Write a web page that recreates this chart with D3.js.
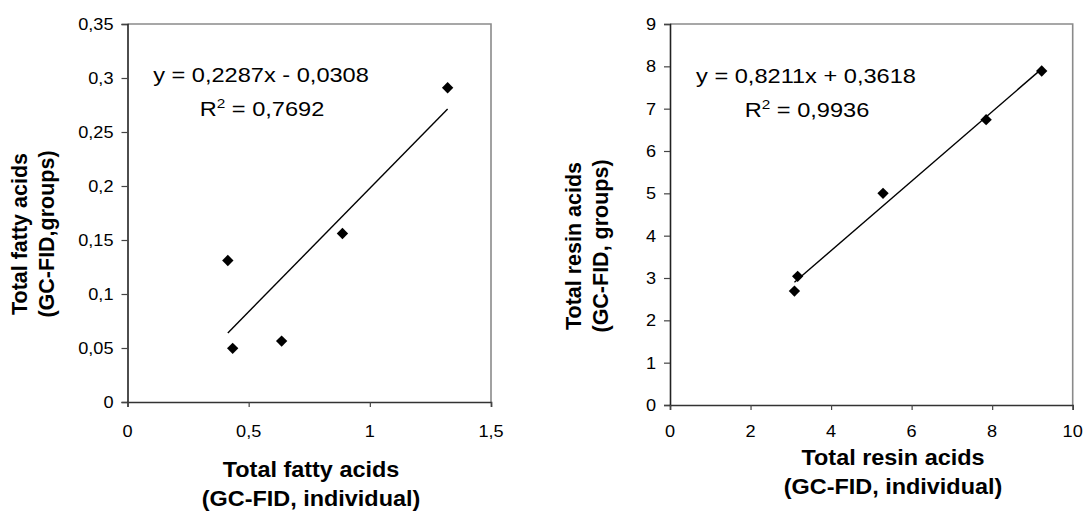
<!DOCTYPE html>
<html>
<head>
<meta charset="utf-8">
<script src="https://cdn.jsdelivr.net/npm/d3@7"></script>
<style>
  html, body { margin: 0; padding: 0; background: #fff; }
  svg { display: block; }
  text { font-family: "Liberation Sans", Arial, sans-serif; fill: #000; }
</style>
</head>
<body>
<svg id="chart" width="1086" height="511"></svg>
<script>
// ---- Data ----
const fattyX = [0.414, 0.434, 0.636, 0.887, 1.321];
const fattyY = [0.131, 0.0497, 0.0564, 0.156, 0.291];
const fattyXTicks = [0, 0.5, 1, 1.5];
const fattyYTicks = [0, 0.05, 0.1, 0.15, 0.2, 0.25, 0.3, 0.35];
const fattyFit = { slope: 0.2287, intercept: -0.0308 };
const fattyEq = ["y = 0,2287x - 0,0308", "0,7692"];

const resinX = [3.09, 3.17, 5.29, 7.85, 9.23];
const resinY = [2.69, 3.04, 5.00, 6.74, 7.89];
const resinXTicks = [0, 2, 4, 6, 8, 10];
const resinYTicks = [0, 1, 2, 3, 4, 5, 6, 7, 8, 9];
const resinFit = { slope: 0.8211, intercept: 0.3618 };
const resinEq = ["y = 0,8211x + 0,3618", "0,9936"];

const locale = d3.formatLocale({ decimal: ",", thousands: ".", grouping: [3], currency: ["", ""] });
const fmt = v => locale.format("~g")(v);

const svg = d3.select("#chart");

function label(g, x, y, str, opts) {
  opts = opts || {};
  const sx = opts.sx || 1;
  const tr = opts.rotate
    ? `translate(${x},${y}) rotate(-90) scale(1,${sx})`
    : `translate(${x},${y}) scale(${sx},1)`;
  const t = g.append("text")
    .attr("transform", tr)
    .attr("text-anchor", opts.anchor || "middle")
    .style("font-size", (opts.size || 15) + "px")
    .style("font-weight", opts.bold ? "bold" : "normal");
  if (opts.dy) t.attr("dy", opts.dy);
  t.text(str);
  return t;
}

function panel(cfg) {
  const x = d3.scaleLinear().domain(cfg.xDomain).range([cfg.left, cfg.right]);
  const y = d3.scaleLinear().domain(cfg.yDomain).range([cfg.bottom, cfg.top]);
  const g = svg.append("g");

  // frame top/right (gray)
  g.append("path")
    .attr("d", `M${cfg.left},${cfg.top}H${cfg.right}V${cfg.bottom}`)
    .attr("fill", "none").attr("stroke", "#8a8a8a").attr("stroke-width", 1.6);

  // y axis
  const yAxis = d3.axisLeft(y).tickValues(cfg.yTicks).tickSize(6).tickFormat("");
  const ya = g.append("g").attr("transform", `translate(${cfg.left},0)`).call(yAxis);
  ya.select(".domain").attr("stroke", "#222").attr("stroke-width", 1.6);
  ya.selectAll(".tick line").attr("stroke", "#444").attr("stroke-width", 1.2);
  cfg.yTicks.forEach(v => label(g, cfg.left - 14, y(v), fmt(v), { anchor: "end", dy: "0.36em", size: 16.5, sx: 1.1 }));

  // x axis
  const xAxis = d3.axisBottom(x).tickValues(cfg.xTicks).tickSize(5).tickFormat("");
  const xa = g.append("g").attr("transform", `translate(0,${cfg.bottom})`).call(xAxis);
  xa.select(".domain").attr("stroke", "#333").attr("stroke-width", 1.6);
  xa.selectAll(".tick line").attr("stroke", "#444").attr("stroke-width", 1.2);
  cfg.xTicks.forEach(v => label(g, x(v), 437, fmt(v), { size: 16.5, sx: 1.1 }));

  // trend line
  const xs = d3.extent(cfg.xs);
  g.append("line")
    .attr("x1", x(xs[0])).attr("y1", y(cfg.fit.slope * xs[0] + cfg.fit.intercept))
    .attr("x2", x(xs[1])).attr("y2", y(cfg.fit.slope * xs[1] + cfg.fit.intercept))
    .attr("stroke", "#000").attr("stroke-width", 1.4);

  // markers
  const sym = d3.symbol().type(d3.symbolDiamond2).size(82);
  g.selectAll("path.pt").data(cfg.xs.map((v, i) => [v, cfg.ys[i]])).join("path")
    .attr("class", "pt")
    .attr("d", sym)
    .attr("transform", d => `translate(${x(d[0])},${y(d[1])})`)
    .attr("fill", "#000");

  // equation
  label(g, cfg.eqX, cfg.eqY, cfg.eq[0], { size: 20, sx: 1.18 });
  const r = label(g, cfg.r2X, cfg.eqY + 34, "", { size: 20, sx: 1.18 });
  r.append("tspan").text("R");
  r.append("tspan").attr("dy", -8).style("font-size", "13px").text("2");
  r.append("tspan").attr("dy", 8).text(" = " + cfg.eq[1]);

  // axis titles
  label(g, cfg.xtX, cfg.xtY, cfg.xTitle[0], { size: 21.5, bold: true, sx: 1.09 });
  label(g, cfg.xtX, cfg.xtY + 29, cfg.xTitle[1], { size: 21.5, bold: true, sx: 1.09 });
  label(g, cfg.ytX, cfg.ytY, cfg.yTitle[0], { size: 21.5, bold: true, rotate: true, sx: 1.05 });
  label(g, cfg.ytX + 27, cfg.ytY, cfg.yTitle[1], { size: 21.5, bold: true, rotate: true, sx: 1.05 });
}

panel({
  left: 127.5, right: 491, top: 24, bottom: 402,
  xDomain: [0, 1.5], yDomain: [0, 0.35],
  xTicks: fattyXTicks, yTicks: fattyYTicks,
  xs: fattyX, ys: fattyY, fit: fattyFit, eq: fattyEq,
  eqX: 261, eqY: 82, r2X: 262,
  xTitle: ["Total fatty acids", "(GC-FID, individual)"], xtX: 311, xtY: 477,
  yTitle: ["Total fatty acids", "(GC-FID,groups)"], ytX: 27, ytY: 234
});

panel({
  left: 670, right: 1072.7, top: 24, bottom: 405,
  xDomain: [0, 10], yDomain: [0, 9],
  xTicks: resinXTicks, yTicks: resinYTicks,
  xs: resinX, ys: resinY, fit: resinFit, eq: resinEq,
  eqX: 806, eqY: 83, r2X: 807,
  xTitle: ["Total resin acids", "(GC-FID, individual)"], xtX: 893, xtY: 465,
  yTitle: ["Total resin acids", "(GC-FID, groups)"], ytX: 581, ytY: 246
});
</script>
</body>
</html>
